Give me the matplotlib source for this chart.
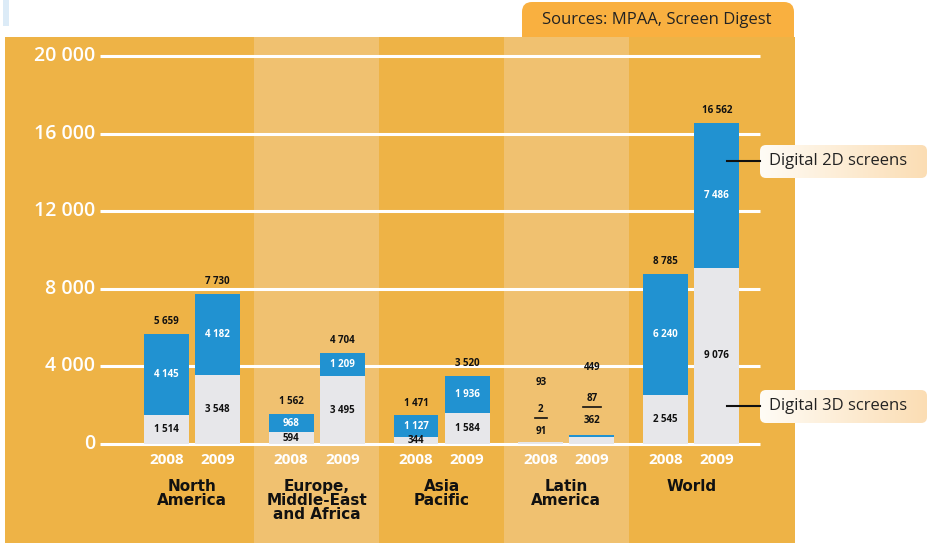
import matplotlib
matplotlib.use("Agg")
import matplotlib.pyplot as plt
from matplotlib.patches import FancyBboxPatch, Rectangle
from matplotlib.colors import LinearSegmentedColormap
import numpy as np

regions = ["North\nAmerica", "Europe,\nMiddle-East\nand Africa", "Asia\nPacific", "Latin\nAmerica", "World"]
years = ["2008", "2009"]
screens_3d = [[1514, 3548], [594, 3495], [344, 1584], [91, 362], [2545, 9076]]
screens_2d = [[4145, 4182], [968, 1209], [1127, 1936], [2, 87], [6240, 7486]]
totals = [["5 659", "7 730"], ["1 562", "4 704"], ["1 471", "3 520"], ["93", "449"], ["8 785", "16 562"]]
yticks = [0, 4000, 8000, 12000, 16000, 20000]
ytick_labels = ["0", "4 000", "8 000", "12 000", "16 000", "20 000"]

ORANGE = "#EEB346"
BAND = "#F0C170"
BLUE = "#2192D1"
GREY = "#E7E7EA"
TAB = "#F9B040"

W, H = 930, 543
fig = plt.figure(figsize=(W / 100, H / 100), dpi=100)
fig.patch.set_facecolor("white")

# background layer (pixel coords) for the sources tab
bg = fig.add_axes([0, 0, 1, 1], zorder=0)
bg.set_xlim(0, W)
bg.set_ylim(H, 0)
bg.axis("off")
bg.add_patch(FancyBboxPatch((522, 2), 272, 60, boxstyle="round,pad=0,rounding_size=10",
                            fc=TAB, ec="none"))
bg.text(657, 20, "Sources: MPAA, Screen Digest", ha="center", va="center",
        fontsize=12, family="Open Sans", color="#222222")
bg.add_patch(Rectangle((3, 0), 6, 26, fc="#DCEBF7", ec="none"))

# main panel
ax = fig.add_axes([5 / W, 0, 790 / W, (H - 37) / H], zorder=1)
ax.set_facecolor(ORANGE)
ax.set_xlim(-1.498, 4.832)
ax.set_ylim(-5103, 20979)
for s in ax.spines.values():
    s.set_visible(False)
ax.set_xticks([])
ax.set_yticks([])

for i in (1, 3):
    ax.axvspan(i - 0.5, i + 0.5, color=BAND, lw=0, zorder=0)

ax.hlines(yticks, -0.737, 4.551, color="white", lw=2.2, zorder=1)
for v, lab in zip(yticks, ytick_labels):
    ax.text(-0.777, v, lab, ha="right", va="center", color="white",
            fontsize=14, family="Open Sans", fontweight="semibold")

width = 0.36
offsets = [-0.205, 0.205]
for i, reg in enumerate(regions):
    for j, yr in enumerate(years):
        x = i + offsets[j]
        g = screens_3d[i][j]
        b = screens_2d[i][j]
        ax.bar(x, g, width, color=GREY, zorder=2)
        ax.bar(x, b, width, bottom=g, color=BLUE, zorder=2)
        ax.text(x, -830, yr, ha="center", va="center", color="white",
                fontsize=11, family="Open Sans", fontweight="bold")
        if i == 3:
            continue
        ax.annotate(totals[i][j], (x, g + b), xytext=(0, 5), textcoords="offset points",
                    ha="center", va="bottom", fontsize=7, fontweight="bold",
                    family="Open Sans", color="#111111")
        ax.text(x, g + b / 2, f"{b:,}".replace(",", " "), ha="center", va="center",
                fontsize=7, fontweight="bold", family="Open Sans", color="white", zorder=3)
        ax.text(x, g / 2, f"{g:,}".replace(",", " "), ha="center", va="center",
                fontsize=7, fontweight="bold", family="Open Sans", color="#111111", zorder=3)
    ax.text(i, -1780, reg, ha="center", va="top", fontsize=11, fontweight="bold",
            family="DejaVu Sans", color="#111111", linespacing=0.95)

# Latin America labels above tiny bars
for j, (tot_y, top_y, line_y, bot_y, hw) in enumerate([(3145, 1753, 1340, 619, 0.05),
                                                       (3918, 2371, 1907, 1237, 0.07)]):
    x = 3 + offsets[j]
    kw = dict(ha="center", va="center", fontsize=7, fontweight="bold",
              family="Open Sans", color="#111111")
    ax.text(x, tot_y, totals[3][j], **kw)
    ax.text(x, top_y, str(screens_2d[3][j]), **kw)
    ax.text(x, bot_y, str(screens_3d[3][j]), **kw)
    ax.plot([x - hw, x + hw], [line_y, line_y], color="#111111", lw=1.2)

# foreground layer for legend callouts
fg = fig.add_axes([0, 0, 1, 1], zorder=2)
fg.axis("off")
fg.patch.set_alpha(0)
grad = np.linspace(0, 1, 256).reshape(1, -1)
cmap = LinearSegmentedColormap.from_list("cream", ["#FFFCF6", "#FBDDB3"])
for label, y0, ly in [("Digital 2D screens", 145, 161), ("Digital 3D screens", 390, 406)]:
    box = FancyBboxPatch((760, y0), 167, 33, boxstyle="round,pad=0,rounding_size=6",
                         fc="none", ec="none")
    fg.add_patch(box)
    im = fg.imshow(grad, cmap=cmap, extent=(760, 927, y0 + 33, y0), aspect="auto", zorder=1)
    im.set_clip_path(box)
    fg.plot([727, 760], [ly, ly], color="#111111", lw=1.5, zorder=2)
    fg.text(769, ly, label, ha="left", va="center", fontsize=12,
            family="Open Sans", color="#222222", zorder=3)
fg.set_xlim(0, W)
fg.set_ylim(H, 0)

fig.savefig("out.png", dpi=100)
